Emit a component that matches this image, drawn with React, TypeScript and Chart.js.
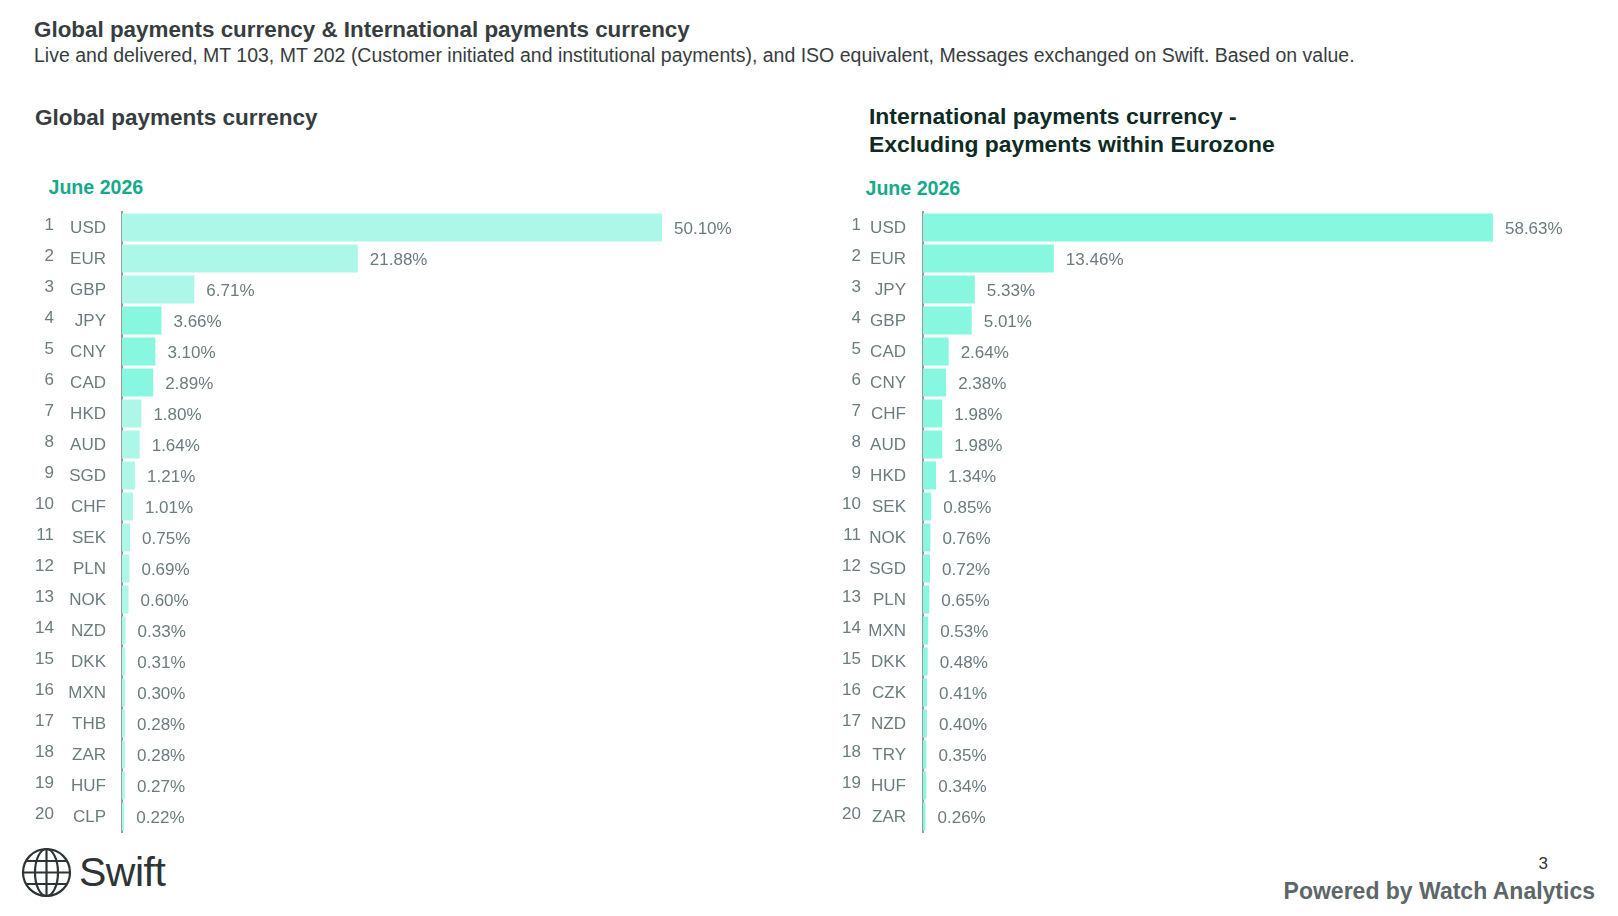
import React, { useEffect, useRef } from 'react';
import { Chart, registerables } from 'chart.js';

Chart.register(...registerables);

// ---------- data ----------
const globalRanks = ['1', '2', '3', '4', '5', '6', '7', '8', '9', '10', '11', '12', '13', '14', '15', '16', '17', '18', '19', '20'];
const globalCurrencies = ['USD', 'EUR', 'GBP', 'JPY', 'CNY', 'CAD', 'HKD', 'AUD', 'SGD', 'CHF', 'SEK', 'PLN', 'NOK', 'NZD', 'DKK', 'MXN', 'THB', 'ZAR', 'HUF', 'CLP'];
const globalShares = [50.10, 21.88, 6.71, 3.66, 3.10, 2.89, 1.80, 1.64, 1.21, 1.01, 0.75, 0.69, 0.60, 0.33, 0.31, 0.30, 0.28, 0.28, 0.27, 0.22];

const intlRanks = ['1', '2', '3', '4', '5', '6', '7', '8', '9', '10', '11', '12', '13', '14', '15', '16', '17', '18', '19', '20'];
const intlCurrencies = ['USD', 'EUR', 'JPY', 'GBP', 'CAD', 'CNY', 'CHF', 'AUD', 'HKD', 'SEK', 'NOK', 'SGD', 'PLN', 'MXN', 'DKK', 'CZK', 'NZD', 'TRY', 'HUF', 'ZAR'];
const intlShares = [58.63, 13.46, 5.33, 5.01, 2.64, 2.38, 1.98, 1.98, 1.34, 0.85, 0.76, 0.72, 0.65, 0.53, 0.48, 0.41, 0.40, 0.35, 0.34, 0.26];

const periodLabel = 'June 2026';

// ---------- styles ----------
const FONT = '"Liberation Sans", Arial, Helvetica, sans-serif';
const PALE = '#adf7e8';
const MINT = '#88f7e0';
const LABEL_GREY = '#6b7c7e';
const globalColors = [PALE, PALE, PALE, MINT, MINT, MINT, PALE, PALE, PALE, PALE, PALE, PALE, PALE, PALE, PALE, PALE, PALE, PALE, PALE, PALE];
const intlColors = globalShares.map(() => MINT);

const valueLabels = {
  id: 'valueLabels',
  afterDatasetsDraw(chart: any) {
    const ctx = chart.ctx;
    const meta = chart.getDatasetMeta(0);
    const data = chart.data.datasets[0].data as number[];
    ctx.save();
    ctx.font = `17px ${FONT}`;
    ctx.fillStyle = LABEL_GREY;
    ctx.textAlign = 'left';
    ctx.textBaseline = 'middle';
    meta.data.forEach((bar: any, i: number) => {
      ctx.fillText(data[i].toFixed(2) + '%', bar.x + 12, bar.y + 2);
    });
    ctx.restore();
  },
};

type PanelProps = {
  ranks: string[];
  currencies: string[];
  values: number[];
  colors: string[];
  width: number;
  height: number;
  rankWidth: number;
  curWidth: number;
  rankPad: number;
  curPad: number;
  xMax: number;
  padRight: number;
};

function BarPanel(p: PanelProps) {
  const ref = useRef<HTMLCanvasElement | null>(null);
  useEffect(() => {
    if (!ref.current) return;
    const fitTo = (w: number) => (s: any) => {
      s.width = w;
      s.paddingTop = 0;
      s.paddingBottom = 0;
      s.paddingLeft = 0;
      s.paddingRight = 0;
    };
    const chart = new Chart(ref.current, {
      type: 'bar',
      data: {
        labels: p.currencies,
        datasets: [
          {
            data: p.values,
            backgroundColor: p.colors,
            borderWidth: 0,
            barPercentage: 0.9,
            categoryPercentage: 1,
          },
        ],
      },
      options: {
        indexAxis: 'y',
        animation: false,
        responsive: false,
        layout: { padding: { top: 12, bottom: 8, left: 0, right: p.padRight } },
        plugins: { legend: { display: false }, tooltip: { enabled: false }, title: { display: false } },
        scales: {
          x: { type: 'linear', min: 0, max: p.xMax, display: false },
          y: {
            type: 'category',
            position: 'left',
            weight: 0,
            z: 1,
            grid: { display: false, drawTicks: false },
            border: { display: true, color: '#9a9c9d', width: 2 },
            ticks: {
              autoSkip: false,
              color: LABEL_GREY,
              font: { family: FONT, size: 17 },
              padding: p.curPad,
              crossAlign: 'near',
              labelOffset: 1,
            },
            afterFit: fitTo(p.curWidth),
          },
          rank: {
            type: 'category',
            position: 'left',
            axis: 'y',
            weight: 1,
            offset: true,
            labels: p.ranks,
            grid: { display: false, drawTicks: false },
            border: { display: false },
            ticks: {
              autoSkip: false,
              color: LABEL_GREY,
              font: { family: FONT, size: 17 },
              padding: p.rankPad,
              crossAlign: 'near',
              labelOffset: -2,
            },
            afterFit: fitTo(p.rankWidth),
          },
        } as any,
      },
      plugins: [valueLabels],
    });
    return () => chart.destroy();
  }, []);
  return <canvas ref={ref} width={p.width} height={p.height} style={{ width: p.width, height: p.height, display: 'block' }} />;
}

function Globe() {
  const r = 23.5;
  const c = 26.5;
  const offs = [-11.5, 0, 11.5];
  return (
    <svg width={54} height={54} viewBox="0 0 54 54" style={{ position: 'absolute', left: 20, top: 846 }}>
      <g fill="none" stroke="#2d3436" strokeWidth={2.2}>
        <circle cx={c} cy={c} r={r} />
        <ellipse cx={c} cy={c} rx={11.5} ry={r} />
        <line x1={c} y1={c - r} x2={c} y2={c + r} />
        {offs.map((o) => {
          const half = Math.sqrt(r * r - o * o);
          return <line key={o} x1={c - half} y1={c + o} x2={c + half} y2={c + o} />;
        })}
      </g>
    </svg>
  );
}

export default function App() {
  const abs = (s: React.CSSProperties): React.CSSProperties => ({ position: 'absolute', margin: 0, whiteSpace: 'nowrap', ...s });
  return (
    <div style={{ position: 'fixed', left: 0, top: 0, width: 1618, height: 916, background: '#ffffff', fontFamily: FONT, overflow: 'hidden' }}>
      <div style={abs({ left: 34, top: 18.7, fontSize: 22.4, lineHeight: '22.4px', fontWeight: 700, color: '#373d3f' })}>
        Global payments currency &amp; International payments currency
      </div>
      <div style={abs({ left: 34, top: 46.2, fontSize: 19.5, lineHeight: '19.5px', color: '#373d3f' })}>
        Live and delivered, MT 103, MT 202 (Customer initiated and institutional payments), and ISO equivalent, Messages exchanged on Swift. Based on value.
      </div>

      <div style={abs({ left: 35, top: 106.5, fontSize: 22.5, lineHeight: '22.5px', fontWeight: 700, color: '#373d3f' })}>
        Global payments currency
      </div>
      <div style={abs({ left: 869, top: 101.5, fontSize: 22.9, lineHeight: '28.4px', fontWeight: 700, color: '#0d2b24' })}>
        International payments currency -<br />
        Excluding payments within Eurozone
      </div>

      <div style={abs({ left: 48.5, top: 178.4, fontSize: 19.6, lineHeight: '19.6px', fontWeight: 700, color: '#16a98b' })}>{periodLabel}</div>
      <div style={abs({ left: 865.5, top: 179.4, fontSize: 19.6, lineHeight: '19.6px', fontWeight: 700, color: '#16a98b' })}>{periodLabel}</div>

      <div style={abs({ left: 0, top: 200 })}>
        <BarPanel
          ranks={globalRanks}
          currencies={globalCurrencies}
          values={globalShares}
          colors={globalColors}
          width={800}
          height={640}
          rankWidth={56}
          curWidth={66}
          rankPad={2}
          curPad={16}
          xMax={60}
          padRight={31.3}
        />
      </div>
      <div style={abs({ left: 810, top: 200 })}>
        <BarPanel
          ranks={intlRanks}
          currencies={intlCurrencies}
          values={intlShares}
          colors={intlColors}
          width={808}
          height={640}
          rankWidth={53}
          curWidth={60}
          rankPad={2}
          curPad={17}
          xMax={70}
          padRight={14.5}
        />
      </div>

      <Globe />
      <div style={abs({ left: 79, top: 852, fontSize: 41, lineHeight: '41px', color: '#2d3436', letterSpacing: -0.5 })}>Swift</div>
      <div style={abs({ right: 70, top: 855, fontSize: 17, lineHeight: '17px', color: '#333333' })}>3</div>
      <div style={abs({ right: 23, top: 880, fontSize: 23, lineHeight: '23px', fontWeight: 700, color: '#5d6668' })}>Powered by Watch Analytics</div>
    </div>
  );
}
